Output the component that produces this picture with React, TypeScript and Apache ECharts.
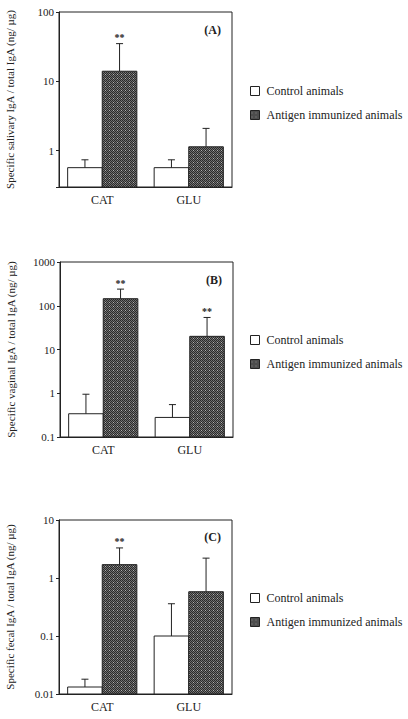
import React, { useEffect, useRef } from "react";
import * as echarts from "echarts";

const categories = ["CAT", "GLU"];
const seriesNames = ["Control animals", "Antigen immunized animals"];

// Panel A – salivary
const salivaryControl = [0.57, 0.57];
const salivaryControlErr = [0.74, 0.74];
const salivaryAntigen = [14, 1.14];
const salivaryAntigenErr = [35, 2.1];
const salivaryStars = ["**", ""];

// Panel B – vaginal
const vaginalControl = [0.34, 0.28];
const vaginalControlErr = [0.95, 0.55];
const vaginalAntigen = [145, 20];
const vaginalAntigenErr = [240, 54];
const vaginalStars = ["**", "**"];

// Panel C – fecal
const fecalControl = [0.0132, 0.1];
const fecalControlErr = [0.018, 0.36];
const fecalAntigen = [1.7, 0.58];
const fecalAntigenErr = [3.3, 2.2];
const fecalStars = ["**", ""];

const panelLabels = ["(A)", "(B)", "(C)"];
const yNames = [
  "Specific salivary IgA / total IgA (ng/ µg)",
  "Specific vaginal IgA / total IgA (ng/ µg)",
  "Specific fecal IgA / total IgA (ng/ µg)",
];
const yMins = [0.3, 0.1, 0.01];
const yMaxs = [100, 1000, 10];

const FONT = "Liberation Serif";
const INK = "#222";

function makePattern() {
  const c = document.createElement("canvas");
  c.width = 4;
  c.height = 4;
  const ctx = c.getContext("2d")!;
  ctx.fillStyle = "#707070";
  ctx.fillRect(0, 0, 4, 4);
  ctx.fillStyle = "#2a2a2a";
  for (let y = 0; y < 4; y++) {
    for (let x = 0; x < 4; x++) {
      if ((x + y) % 2 === 0) ctx.fillRect(x, y, 1, 1);
    }
  }
  ctx.fillStyle = "#b0b0b0";
  ctx.fillRect(1, 2, 1, 1);
  return { image: c, repeat: "repeat" } as any;
}

export default function App() {
  const ref = useRef<HTMLDivElement>(null);
  useEffect(() => {
    if (!ref.current) return;
    const chart = echarts.init(ref.current, undefined, { renderer: "svg" });
    const pattern = makePattern();

    const grids = [
      { left: 59, top: 12, width: 173, height: 175 },
      { left: 60, top: 262, width: 173, height: 175 },
      { left: 59, top: 520, width: 173, height: 174 },
    ];
    const legendTops = [79, 328, 586];

    const panels = [
      { c: salivaryControl, ce: salivaryControlErr, a: salivaryAntigen, ae: salivaryAntigenErr, s: salivaryStars },
      { c: vaginalControl, ce: vaginalControlErr, a: vaginalAntigen, ae: vaginalAntigenErr, s: vaginalStars },
      { c: fecalControl, ce: fecalControlErr, a: fecalAntigen, ae: fecalAntigenErr, s: fecalStars },
    ];

    const makeRender = (kind: "control" | "antigen", stars: string[]) => (params: any, api: any) => {
      const ci = api.value(0);
      const v = api.value(1);
      const e = api.value(2);
      const cs = params.coordSys;
      const band = cs.width / categories.length;
      const barW = band * 0.4;
      const p = api.coord([ci, v]);
      const cx = p[0];
      const yTop = p[1];
      const yErr = api.coord([ci, e])[1];
      const yBase = cs.y + cs.height;
      const x0 = kind === "control" ? cx - barW : cx;
      const bx = x0 + barW / 2;
      const children: any[] = [
        {
          type: "rect",
          shape: { x: x0, y: yTop, width: barW, height: yBase - yTop },
          style: { fill: kind === "control" ? "#fff" : pattern, stroke: INK, lineWidth: 1 },
        },
        {
          type: "line",
          shape: { x1: bx, y1: yTop, x2: bx, y2: yErr },
          style: { stroke: INK, lineWidth: 1 },
        },
        {
          type: "line",
          shape: { x1: bx - 3.5, y1: yErr, x2: bx + 3.5, y2: yErr },
          style: { stroke: INK, lineWidth: 1 },
        },
      ];
      const st = kind === "antigen" ? stars[ci] : "";
      if (st) {
        children.push({
          type: "text",
          style: {
            text: st,
            x: bx,
            y: yErr - 1,
            textAlign: "center",
            textVerticalAlign: "bottom",
            fontFamily: FONT,
            fontSize: 10,
            fontWeight: "bold",
            fill: INK,
          },
        });
      }
      return { type: "group", children };
    };

    const fmt = (v: number) => {
      const l = Math.log10(v);
      if (Math.abs(l - Math.round(l)) > 1e-6) return "";
      return String(+v.toPrecision(3));
    };

    const option: any = {
      animation: false,
      backgroundColor: "#fff",
      grid: grids.map((g) => ({ ...g, show: true, borderColor: INK, borderWidth: 1, backgroundColor: "transparent" })),
      xAxis: grids.map((_, i) => ({
        type: "category",
        gridIndex: i,
        data: categories,
        boundaryGap: true,
        axisTick: { show: false },
        axisLine: { lineStyle: { color: INK, width: 1 } },
        axisLabel: { color: INK, fontFamily: FONT, fontSize: 12, margin: 7 },
        splitLine: { show: false },
      })),
      yAxis: grids.map((_, i) => ({
        type: "log",
        logBase: 10,
        gridIndex: i,
        min: yMins[i],
        max: yMaxs[i],
        name: yNames[i],
        nameLocation: "middle",
        nameGap: 44,
        nameTextStyle: { color: INK, fontFamily: FONT, fontSize: 11 },
        axisLine: { show: true, lineStyle: { color: INK, width: 1 } },
        axisTick: { show: true, length: 3, lineStyle: { color: INK } },
        axisLabel: { color: INK, fontFamily: FONT, fontSize: 11, margin: 5, formatter: fmt },
        splitLine: { show: false },
        minorTick: { show: false },
      })),
      legend: legendTops.map((t) => ({
        orient: "vertical",
        left: 245,
        top: t,
        icon: "rect",
        itemWidth: 9,
        itemHeight: 9,
        itemGap: 10,
        selectedMode: false,
        textStyle: { color: INK, fontFamily: FONT, fontSize: 12, lineHeight: 14, padding: [0, 0, 0, 2] },
        data: [
          { name: seriesNames[0], itemStyle: { color: "#fff", borderColor: INK, borderWidth: 1 } },
          { name: seriesNames[1], itemStyle: { color: pattern, borderColor: INK, borderWidth: 1 } },
        ],
      })),
      graphic: grids.map((g, i) => ({
        type: "text",
        x: g.left + g.width - 11,
        y: g.top + (i === 2 ? 17 : 18),
        style: {
          text: panelLabels[i],
          textAlign: "right",
          textVerticalAlign: "middle",
          fontFamily: FONT,
          fontSize: 12,
          fontWeight: "bold",
          fill: INK,
        },
      })),
      series: panels.flatMap((p, i) => [
        {
          type: "custom",
          name: seriesNames[0],
          xAxisIndex: i,
          yAxisIndex: i,
          itemStyle: { color: "#fff", borderColor: INK },
          encode: { x: 0, y: [1, 2] },
          renderItem: makeRender("control", p.s),
          data: categories.map((_, k) => [k, p.c[k], p.ce[k]]),
        },
        {
          type: "custom",
          name: seriesNames[1],
          xAxisIndex: i,
          yAxisIndex: i,
          itemStyle: { color: pattern, borderColor: INK },
          encode: { x: 0, y: [1, 2] },
          renderItem: makeRender("antigen", p.s),
          data: categories.map((_, k) => [k, p.a[k], p.ae[k]]),
        },
      ]),
    };
    chart.setOption(option);
    return () => chart.dispose();
  }, []);
  return (
    <div
      ref={ref}
      style={{ position: "absolute", left: 0, top: 0, width: 408, height: 719, background: "#fff" }}
    />
  );
}
